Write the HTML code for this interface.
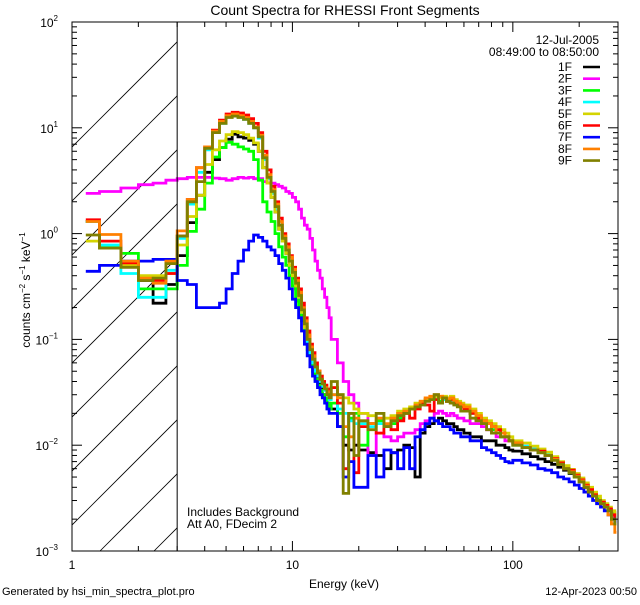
<!DOCTYPE html>
<html><head><meta charset="utf-8"><style>
html,body{margin:0;padding:0;background:#fff;}
svg text{font-family:"Liberation Sans",sans-serif;fill:#000;}
</style></head><body>
<svg id="chart" width="640" height="600" viewBox="0 0 640 600" xmlns="http://www.w3.org/2000/svg">
<rect width="640" height="600" fill="#fff"/>
<defs><clipPath id="plotclip"><rect x="72" y="22" width="546" height="529"/></clipPath></defs>
<text x="345" y="15" font-size="14" text-anchor="middle">Count Spectra for RHESSI Front Segments</text>
<g id="hatch" clip-path="url(#plotclip)"></g>
<g id="series" clip-path="url(#plotclip)"></g>
<g id="axes"></g>
<text x="344" y="588" font-size="12" text-anchor="middle">Energy (keV)</text>
<text transform="translate(30,290) rotate(-90)" font-size="12" text-anchor="middle">counts cm<tspan font-size="8" dy="-5">−2</tspan><tspan dy="5"> s</tspan><tspan font-size="8" dy="-5">−1</tspan><tspan dy="5"> keV</tspan><tspan font-size="8" dy="-5">−1</tspan></text>
<text x="599" y="44" font-size="12" text-anchor="end">12-Jul-2005</text>
<text x="599" y="56" font-size="12" text-anchor="end">08:49:00 to 08:50:00</text>
<g id="legend"></g>
<text x="187" y="516" font-size="12">Includes Background</text>
<text x="187" y="528" font-size="12">Att A0, FDecim 2</text>
<text x="2" y="595" font-size="11">Generated by hsi_min_spectra_plot.pro</text>
<text x="637" y="595" font-size="11" text-anchor="end">12-Apr-2023 00:50</text>
</svg>
<script>
const seriesNames = ["1F","2F","3F","4F","5F","6F","7F","8F","9F"];
const seriesColors = ["#000000","#ff00ff","#00ff00","#00ffff","#d4d400","#ff0000","#0000ff","#ff8000","#808000"];
const xTicksMajor = [1,10,100];
const xTickLabels = ["1","10","100"];
const yTickExps = [-3,-2,-1,0,1,2];

const s1F = [1.3,0.73,0.5,0.36,0.22,0.33, 0.62,1.27,2.3,3.8,5.0,6.5,7.8,8.7,8.2,8.0,7.6,7.0,6.0,4.2,3.0, 2.2,1.6,1.1,0.85,0.65,0.5,0.38,0.3,0.23,0.17,0.12,0.09,0.07,0.055,0.045,0.04,0.035,0.03,0.028,0.025,0.022,
 0.022,0.015,0.01,0.009,0.01, 0.009,0.0085,0.008,0.006,0.0085,0.009,0.01,0.0095,0.005,0.013,0.015,0.016,0.017,0.018,0.017,0.016,0.016,0.015,0.014,0.014, 0.013,0.012,0.012,0.011,0.011,0.011,0.01,0.01,0.0095,0.009, 0.0088,0.0083,0.0078,0.0074,0.007,0.0066,0.0062,0.0058,0.0054,0.005,0.0045,0.004,0.0036,0.0033,0.003,0.0028,0.0026,0.0024,0.0022,0.002];
const s2F = [2.4,2.5,2.7,2.9,3.0,3.2, 3.3,3.4,3.4,3.4,3.35,3.3,3.2,3.3,3.4,3.35,3.4,3.3,3.3,3.1,3.0, 3.0,2.9,2.8,2.7,2.5,2.4,2.2,2.0,1.7,1.4,1.2,1.1,0.9,0.7,0.55,0.45,0.38,0.3,0.25,0.2,0.16,
 0.1,0.06,0.04,0.03,0.025, 0.02,0.008,0.013,0.012,0.011,0.012,0.013,0.013,0.014,0.016,0.017,0.018,0.02,0.021,0.02,0.019,0.02,0.019,0.018,0.018, 0.017,0.016,0.016,0.015,0.014,0.013,0.012,0.012,0.011,0.011, 0.0105,0.0098,0.0092,0.0087,0.0081,0.0075,0.0068,0.0062,0.0057,0.0052,0.0047,0.0042,0.0038,0.0034,0.0031,0.0029,0.0027,0.0025,0.0023,0.0021];
const s3F = [1.3,0.75,0.65,0.3,0.3,0.3, 0.5,1.05,1.7,3.0,5.3,6.5,7.3,7.0,6.6,6.3,6.0,5.0,3.2,2.0,1.6, 1.3,1.0,0.75,0.6,0.5,0.4,0.32,0.25,0.2,0.15,0.11,0.08,0.06,0.05,0.042,0.037,0.033,0.03,0.028,0.025,0.022,
 0.025,0.02,0.012,0.018,0.02, 0.01,0.016,0.017,0.015,0.016,0.018,0.02,0.022,0.024,0.025,0.027,0.028,0.027,0.026,0.027,0.026,0.026,0.025,0.024,0.023, 0.022,0.02,0.018,0.017,0.016,0.014,0.013,0.012,0.012,0.011, 0.01,0.0095,0.009,0.0085,0.008,0.0074,0.0066,0.006,0.0055,0.005,0.0046,0.0041,0.0037,0.0034,0.0031,0.0029,0.0027,0.0025,0.0023,0.0021];
const s4F = [1.3,0.78,0.42,0.25,0.25,0.45, 0.9,1.9,3.8,6.2,9.0,11.0,12.7,13.0,12.6,12.0,11.0,10.0,8.0,5.0,3.3, 2.4,1.7,1.2,0.9,0.7,0.55,0.42,0.33,0.25,0.18,0.13,0.09,0.075,0.06,0.05,0.045,0.04,0.036,0.033,0.03,0.027,
 0.03,0.022,0.02,0.017,0.016, 0.016,0.015,0.016,0.015,0.017,0.019,0.021,0.022,0.024,0.025,0.027,0.028,0.029,0.028,0.027,0.027,0.026,0.025,0.024,0.023, 0.022,0.02,0.018,0.017,0.016,0.015,0.014,0.013,0.012,0.011, 0.0105,0.0098,0.0092,0.0088,0.0082,0.0076,0.0068,0.0062,0.0057,0.0052,0.0047,0.0042,0.0038,0.0034,0.003,0.0028,0.0026,0.0024,0.0022,0.002];
const s5F = [0.85,0.73,0.5,0.4,0.4,0.42, 0.78,1.45,2.3,4.5,6.2,7.5,8.6,9.2,9.0,8.6,8.0,7.2,6.0,4.2,3.0, 2.2,1.6,1.1,0.85,0.65,0.5,0.4,0.32,0.25,0.18,0.13,0.1,0.08,0.065,0.055,0.05,0.045,0.04,0.036,0.033,0.03,
 0.035,0.03,0.028,0.025,0.022, 0.02,0.019,0.02,0.018,0.019,0.021,0.022,0.023,0.025,0.026,0.027,0.028,0.029,0.028,0.029,0.028,0.029,0.027,0.026,0.025, 0.024,0.022,0.02,0.018,0.017,0.016,0.015,0.014,0.013,0.012, 0.011,0.0105,0.0098,0.0092,0.0086,0.0078,0.007,0.0064,0.0059,0.0054,0.0049,0.0044,0.004,0.0036,0.0033,0.003,0.0028,0.0026,0.0024,0.0022];
const s6F = [1.35,0.85,0.53,0.37,0.36,0.42, 0.95,2.1,4.2,6.6,9.5,11.8,13.5,14.0,13.8,13.2,12.2,11.0,9.0,6.0,4.0, 2.8,2.0,1.4,1.0,0.8,0.62,0.48,0.38,0.3,0.22,0.16,0.12,0.09,0.075,0.06,0.05,0.045,0.04,0.037,0.034,0.03,
 0.035,0.025,0.006,0.02,0.0055, 0.015,0.016,0.013,0.015,0.014,0.017,0.02,0.018,0.022,0.025,0.024,0.021,0.027,0.025,0.028,0.026,0.027,0.025,0.024,0.023, 0.022,0.02,0.018,0.017,0.016,0.015,0.014,0.013,0.012,0.011, 0.0105,0.0095,0.009,0.0088,0.008,0.0075,0.0068,0.006,0.0058,0.0052,0.0047,0.0042,0.0038,0.0034,0.003,0.0029,0.0027,0.0025,0.0022,0.002];
const s7F = [0.44,0.5,0.55,0.55,0.57,0.57, 0.36,0.33,0.2,0.2,0.2,0.22,0.3,0.42,0.55,0.7,0.85,0.97,0.92,0.85,0.75, 0.7,0.62,0.52,0.45,0.38,0.3,0.24,0.2,0.16,0.12,0.09,0.07,0.055,0.045,0.04,0.035,0.03,0.028,0.025,0.022,0.02,
 0.02,0.015,0.005,0.007,0.004, 0.004,0.008,0.005,0.009,0.0085,0.006,0.0095,0.006,0.012,0.014,0.016,0.018,0.017,0.016,0.015,0.015,0.014,0.013,0.013,0.012, 0.012,0.011,0.011,0.0095,0.009,0.0085,0.008,0.0075,0.007,0.0068, 0.0072,0.0068,0.0065,0.006,0.0058,0.0055,0.005,0.0048,0.0045,0.0042,0.0039,0.0036,0.0033,0.003,0.0028,0.0026,0.0024,0.0022,0.002,0.0019];
const s8F = [1.3,0.98,0.55,0.38,0.34,0.55, 1.06,2.1,4.2,6.6,9.3,11.5,13.0,13.5,13.0,12.5,11.5,10.2,8.5,5.5,3.6, 2.6,1.9,1.3,0.95,0.75,0.6,0.46,0.36,0.28,0.2,0.15,0.11,0.085,0.07,0.055,0.05,0.042,0.038,0.035,0.032,0.03,
 0.03,0.028,0.015,0.012,0.018, 0.017,0.016,0.018,0.016,0.018,0.02,0.021,0.022,0.024,0.026,0.028,0.029,0.03,0.029,0.028,0.027,0.028,0.026,0.025,0.024, 0.023,0.021,0.019,0.017,0.016,0.015,0.013,0.013,0.012,0.011, 0.0105,0.0095,0.009,0.0085,0.008,0.0074,0.0066,0.006,0.0056,0.0051,0.0046,0.0041,0.0036,0.0033,0.003,0.0028,0.0026,0.0022,0.0018,0.0015];
const s9F = [0.97,0.73,0.48,0.36,0.38,0.52, 0.95,2.0,3.1,6.4,9.0,11.0,12.5,12.9,12.5,12.0,11.0,10.0,8.2,5.2,3.4, 2.5,1.8,1.2,0.9,0.7,0.55,0.43,0.34,0.26,0.19,0.14,0.1,0.08,0.065,0.055,0.048,0.042,0.038,0.034,0.03,0.028,
 0.04,0.03,0.0035,0.02,0.008, 0.017,0.014,0.02,0.015,0.017,0.019,0.02,0.022,0.023,0.024,0.026,0.027,0.03,0.025,0.028,0.026,0.025,0.024,0.023,0.021, 0.021,0.018,0.017,0.016,0.014,0.013,0.013,0.012,0.012,0.011, 0.01,0.0095,0.009,0.0085,0.008,0.0072,0.0066,0.006,0.0055,0.005,0.0045,0.004,0.0036,0.0033,0.003,0.0028,0.0026,0.0024,0.002,0.0018];
const allSeries = [s1F,s2F,s3F,s4F,s5F,s6F,s7F,s8F,s9F];

// energy bin edges (keV)
const edges = [];
for (let i = 0; i <= 42; i++) edges.push(1 + i / 3);
for (let e = 16; e <= 20; e++) edges.push(e);
for (let e = 22; e <= 60; e += 2) edges.push(e);
for (let e = 64; e <= 100; e += 4) edges.push(e);
for (let e = 110; e <= 300; e += 10) edges.push(e);

const X0 = 72, X1 = 618, Y0 = 22, Y1 = 551;
const XMIN = 1, XMAX = 300, YMINE = -3, YMAXE = 2;
function xs(v){ return X0 + (Math.log10(v) - Math.log10(XMIN)) / (Math.log10(XMAX) - Math.log10(XMIN)) * (X1 - X0); }
function ys(v){ return Y1 - (Math.log10(v) - YMINE) / (YMAXE - YMINE) * (Y1 - Y0); }
const NS = "http://www.w3.org/2000/svg";
function mk(tag, attrs, parent){ const el = document.createElementNS(NS, tag); for (const k in attrs) el.setAttribute(k, attrs[k]); parent.appendChild(el); return el; }

// hatch
const hatch = document.getElementById('hatch');
const x3 = xs(3);
for (let k = -8; k < 14; k++) {
  const bx = 100 + k * 54;
  const ln = mk('line', {x1: bx, y1: Y1, x2: bx + 560, y2: Y1 - 560, stroke: '#000', 'stroke-width': 0.8}, hatch);
  
  
}
const hc = document.createElementNS(NS, 'clipPath'); hc.setAttribute('id', 'hatchclip');
mk('rect', {x: X0, y: Y0, width: x3 - X0, height: Y1 - Y0}, hc);
document.querySelector('defs').appendChild(hc);
hatch.setAttribute('clip-path', 'url(#hatchclip)');
const vl = mk('line', {x1: x3, y1: Y0, x2: x3, y2: Y1, stroke: '#000', 'stroke-width': 1}, document.getElementById('axes'));



// series (IDL psym=10 style: starts/ends at bin centres)
const sg = document.getElementById('series');
allSeries.forEach((vals, si) => {
  let d = '';
  const n = vals.length;
  for (let i = 0; i < n; i++) {
    let xa = xs(edges[i]), xb = xs(edges[i + 1]);
    if (i === 0) xa = (xa + xb) / 2;
    if (i === n - 1) xb = (xa + xb) / 2;
    const y = ys(vals[i]).toFixed(1);
    d += (i === 0 ? 'M' + xa.toFixed(1) + ',' + y : 'V' + y) + 'H' + xb.toFixed(1);
  }
  const p = mk('path', {d: d, fill: 'none', stroke: seriesColors[si], 'stroke-width': 2.8, 'stroke-linejoin': 'miter'}, sg);
  
  
});

// axes
const ax = document.getElementById('axes');
const frame = mk('rect', {x: X0, y: Y0, width: X1 - X0, height: Y1 - Y0, fill: 'none', stroke: '#000', 'stroke-width': 1}, ax);


for (let dec = 1; dec <= 100; dec *= 10) {
  for (let m = 1; m <= 9; m++) {
    const v = dec * m; if (v > XMAX) break;
    const x = xs(v), L = m === 1 ? 10 : 5;
    mk('line', {x1: x, y1: Y1, x2: x, y2: Y1 - L, stroke: '#000'}, ax);
    mk('line', {x1: x, y1: Y0, x2: x, y2: Y0 + L, stroke: '#000'}, ax);
  }
}
xTicksMajor.forEach((v, i) => {
  const t = mk('text', {x: xs(v), y: Y1 + 18, 'font-size': 12, 'text-anchor': 'middle'}, ax);
  t.textContent = xTickLabels[i];
  
  
});
yTickExps.forEach(e => {
  for (let m = 1; m <= 9; m++) {
    const v = Math.pow(10, e) * m; if (e === YMAXE && m > 1) break;
    const y = ys(v), L = m === 1 ? 10 : 5;
    mk('line', {x1: X0, y1: y, x2: X0 + L, y2: y, stroke: '#000'}, ax);
    mk('line', {x1: X1, y1: y, x2: X1 - L, y2: y, stroke: '#000'}, ax);
  }
  const t = mk('text', {x: 58, y: ys(Math.pow(10, e)) + 5, 'font-size': 12, 'text-anchor': 'end'}, ax);
  t.textContent = '10';
  const sup = mk('tspan', {'font-size': 8, dy: -6}, t);
  sup.textContent = e < 0 ? '−' + (-e) : String(e);
  
  
});

// legend
const lg = document.getElementById('legend');
seriesNames.forEach((n, i) => {
  const y = 67 + i * 11.7;
  const t = mk('text', {x: 572, y: y + 4, 'font-size': 12, 'text-anchor': 'end'}, lg);
  t.textContent = n;
  
  
  const l = mk('line', {x1: 583, y1: y, x2: 600, y2: y, stroke: seriesColors[i], 'stroke-width': 2.6}, lg);
  
  
});
</script>
</body></html>
